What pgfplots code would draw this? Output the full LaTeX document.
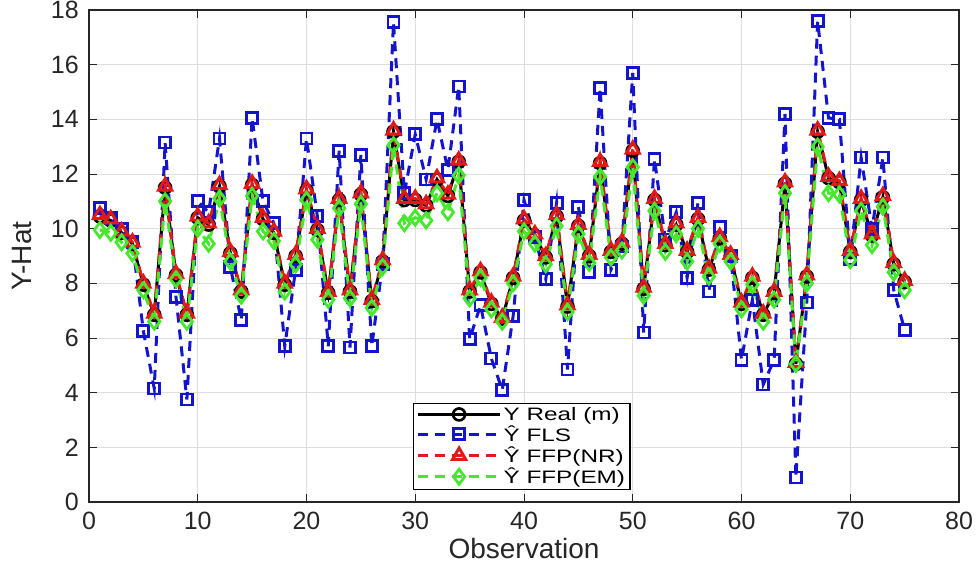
\documentclass[border=0pt]{standalone}
\usepackage{fontspec}
\setmainfont{Liberation Sans}
\newfontfamily\legfont{Liberation Sans}[FakeStretch=1.35]
\usepackage{pgfplots}
\usepackage{pgfplotstable}
\pgfplotsset{compat=1.18}
\definecolor{mblue}{RGB}{20,20,205}
\definecolor{mred}{RGB}{225,25,25}
\definecolor{mgreen}{RGB}{70,232,45}
\definecolor{gridc}{RGB}{222,222,222}
\definecolor{framec}{RGB}{38,38,38}
\pgfplotstableread{
x real fls nr em
1 10.45 10.75 10.5 9.95
2 10.30 10.40 10.35 9.85
3 9.85 10.00 9.90 9.50
4 9.45 9.50 9.50 9.10
5 7.95 6.25 8.00 7.75
6 6.85 4.15 6.90 6.60
7 11.50 13.15 11.55 11.00
8 8.30 7.50 8.35 8.15
9 6.85 3.75 6.90 6.60
10 10.40 11.00 10.45 10.00
11 10.15 10.60 10.20 9.45
12 11.55 13.30 11.60 11.10
13 9.10 8.60 9.15 8.80
14 7.70 6.65 7.75 7.55
15 11.60 14.05 11.65 11.20
16 10.35 11.00 10.40 9.90
17 9.85 10.20 9.90 9.55
18 7.95 5.70 8.00 7.70
19 9.00 8.50 9.05 8.70
20 11.40 13.30 11.45 11.05
21 9.95 10.45 10.00 9.60
22 7.65 5.70 7.70 7.40
23 11.05 12.85 11.10 10.75
24 7.70 5.65 7.75 7.45
25 11.25 12.70 11.30 10.90
26 7.35 5.70 7.40 7.10
27 8.80 8.70 8.85 8.60
28 13.55 17.55 13.60 13.05
29 11.05 11.30 11.10 10.20
30 11.05 13.45 11.10 10.40
31 10.85 11.80 10.90 10.30
32 11.80 14.00 11.85 11.30
33 11.20 12.15 11.25 10.60
34 12.45 15.20 12.50 11.95
35 7.70 5.95 7.75 7.45
36 8.40 7.20 8.45 8.20
37 7.25 5.25 7.30 7.05
38 6.70 4.10 6.75 6.60
39 8.20 6.80 8.25 8.00
40 10.30 11.05 10.35 9.90
41 9.75 9.70 9.80 9.45
42 8.95 8.15 9.00 8.70
43 10.45 10.95 10.50 10.10
44 7.15 4.85 7.20 6.95
45 10.10 10.80 10.15 9.80
46 9.00 8.40 9.05 8.75
47 12.40 15.15 12.45 11.90
48 9.15 8.50 9.20 8.95
49 9.45 9.35 9.50 9.20
50 12.85 15.70 12.90 12.25
51 7.80 6.20 7.85 7.55
52 11.05 12.55 11.10 10.65
53 9.40 9.60 9.45 9.15
54 10.15 10.60 10.20 9.80
55 9.15 8.20 9.20 8.80
56 10.35 10.95 10.40 10.00
57 8.50 7.70 8.55 8.25
58 9.65 10.05 9.70 9.45
59 9.00 9.00 9.05 8.80
60 7.25 5.20 7.30 7.05
61 8.20 7.40 8.25 7.95
62 6.85 4.30 6.90 6.60
63 7.65 5.20 7.70 7.40
64 11.65 14.20 11.70 11.30
65 5.05 0.90 5.10 5.05
66 8.25 7.30 8.30 8.00
67 13.55 17.60 13.60 13.00
68 11.85 14.05 11.90 11.30
69 11.70 14.00 11.75 11.25
70 9.15 8.90 9.20 8.85
71 11.05 12.60 11.10 10.65
72 9.75 10.00 9.80 9.40
73 11.15 12.60 11.20 10.80
74 8.70 7.75 8.75 8.40
75 8.05 6.30 8.10 7.75
}\datatable
\begin{document}
\begin{tikzpicture}
\begin{axis}[
  name=main,
  scale only axis,
  width=870pt, height=492pt,
  xmin=0, xmax=80, ymin=0, ymax=18,
  xtick={0,10,...,80}, ytick={0,2,...,18},
  grid=major,
  major grid style={draw=gridc, line width=0.9pt},
  axis line style={draw=framec, line width=1.2pt},
  tick align=inside,
  major tick length=8pt,
  tick style={draw=framec, line width=0.9pt},
  /pgf/number format/assume math mode=true,
  every tick label/.append style={inner sep=0pt, font=\fontsize{25}{28}\selectfont, text=framec},
  xticklabel style={yshift=-10pt},
  yticklabel style={xshift=-10pt},
  xlabel={Observation}, ylabel={Y-Hat},
  every axis x label/.style={at={(axis description cs:0.5,0)}, anchor=north, yshift=-36pt, inner sep=0pt, font=\fontsize{28}{32}\selectfont, text=framec},
  every axis y label/.style={at={(axis description cs:-0.0655,0.5)}, rotate=90, anchor=south, inner sep=0pt, font=\fontsize{28}{32}\selectfont, text=framec},
  legend cell align=left,
  legend style={at={(0.3724,0.0244)}, anchor=south west,
    font=\legfont\fontsize{18}{23}\selectfont, draw=black, line width=1.2pt,
    inner xsep=3pt, inner ysep=2pt, row sep=0pt, fill=white},
  legend image code/.code={
    \draw[#1, mark repeat=2, mark phase=2] plot coordinates {(0pt,0pt) (41pt,0pt) (82pt,0pt)};
  },
]
\addplot[black, line width=3pt, mark=o, mark size=6pt, mark options={solid, line width=2.6pt}]
  table[x=x, y=real] {\datatable};
\addlegendentry{Y Real (m)}
\addplot[mblue, line width=3pt, dash pattern=on 10pt off 7pt, mark=square, mark size=5.5pt, mark options={solid, line width=2.8pt}]
  table[x=x, y=fls] {\datatable};
\addlegendentry{Ŷ FLS}
\addplot[mred, line width=3pt, dash pattern=on 10pt off 7pt, mark=triangle, mark size=7.5pt, mark options={solid, line width=3pt}]
  table[x=x, y=nr] {\datatable};
\addlegendentry{Ŷ FFP(NR)}
\addplot[mgreen, line width=3pt, dash pattern=on 10pt off 7pt, mark=diamond, mark size=7.5pt, mark options={solid, line width=2.8pt}]
  table[x=x, y=em] {\datatable};
\addlegendentry{Ŷ FFP(EM)}
\end{axis}
\path ([xshift=-89pt,yshift=-68pt]main.south west) ([xshift=17pt,yshift=10pt]main.north east);
\end{tikzpicture}
\end{document}
